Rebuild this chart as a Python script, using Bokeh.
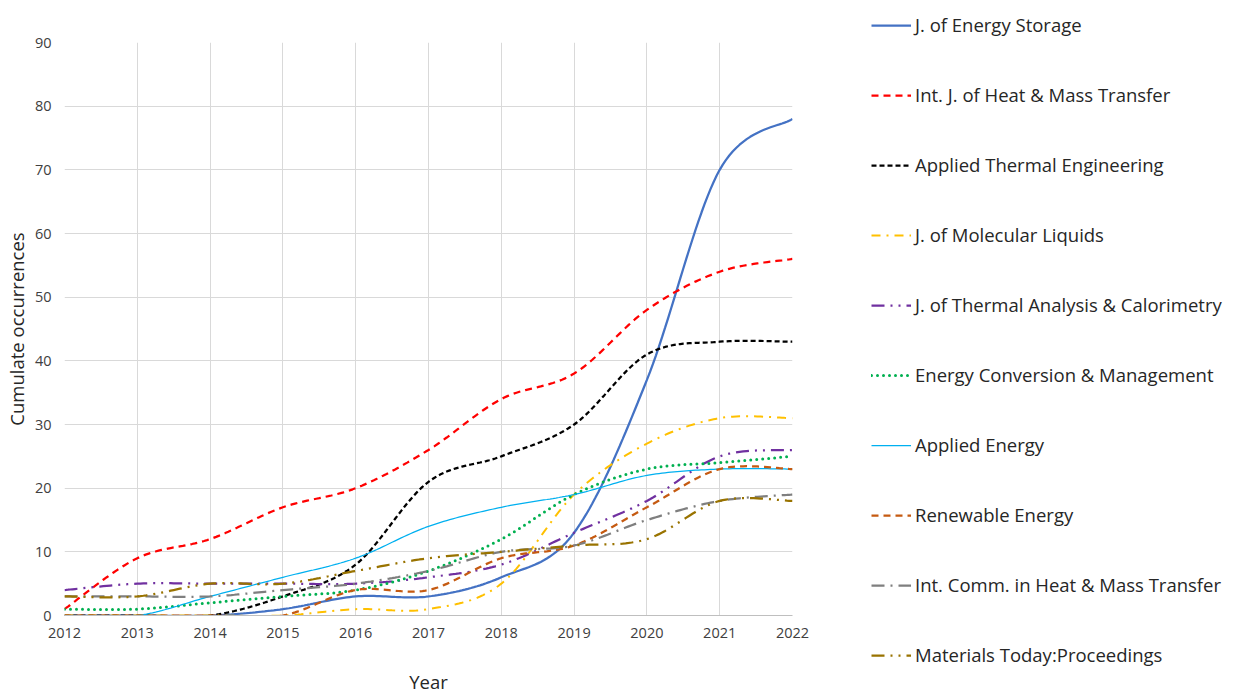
from bokeh.plotting import figure
from bokeh.models import Legend, LegendItem, FixedTicker, Range1d
from bokeh.embed import file_html
from bokeh.resources import INLINE

years = [2012, 2013, 2014, 2015, 2016, 2017, 2018, 2019, 2020, 2021, 2022]

energy_storage = [0, 0, 0, 1, 3, 3, 6, 13, 37, 70, 78]
heat_mass = [1, 9, 12, 17, 20, 26, 34, 38, 48, 54, 56]
applied_thermal = [0, 0, 0, 3, 8, 21, 25, 30, 41, 43, 43]
molecular_liquids = [0, 0, 0, 0, 1, 1, 5, 19, 27, 31, 31]
thermal_analysis = [4, 5, 5, 5, 5, 6, 8, 13, 18, 25, 26]
energy_conversion = [1, 1, 2, 3, 4, 7, 12, 19, 23, 24, 25]
applied_energy = [0, 0, 3, 6, 9, 14, 17, 19, 22, 23, 23]
renewable_energy = [0, 0, 0, 0, 4, 4, 9, 11, 17, 23, 23]
int_comm = [3, 3, 3, 4, 5, 7, 10, 11, 15, 18, 19]
materials_today = [3, 3, 5, 5, 7, 9, 10, 11, 12, 18, 18]

names = [
    "J. of Energy Storage",
    "Int. J. of Heat & Mass Transfer",
    "Applied Thermal Engineering",
    "J. of Molecular Liquids",
    "J. of Thermal Analysis & Calorimetry",
    "Energy Conversion & Management",
    "Applied Energy",
    "Renewable Energy",
    "Int. Comm. in Heat & Mass Transfer",
    "Materials Today:Proceedings",
]
series = [energy_storage, heat_mass, applied_thermal, molecular_liquids,
          thermal_analysis, energy_conversion, applied_energy,
          renewable_energy, int_comm, materials_today]

styles = [
    dict(color="#4472C4", width=2.25, dash="solid", cap="butt"),
    dict(color="#FF0000", width=2.25, dash="7 5", cap="butt"),
    dict(color="#000000", width=2.25, dash="5 3", cap="butt"),
    dict(color="#FFC000", width=2.0, dash="9 6 2 6", cap="butt"),
    dict(color="#7030A0", width=2.25, dash="13 6 2 6 2 6", cap="butt"),
    dict(color="#00B050", width=3.0, dash="0 6", cap="round"),
    dict(color="#00B0F0", width=1.25, dash="solid", cap="butt"),
    dict(color="#C55A11", width=2.25, dash="7 5", cap="butt"),
    dict(color="#7F7F7F", width=2.25, dash="13 6 2 6", cap="butt"),
    dict(color="#997300", width=2.25, dash="13 6 2 6 2 6", cap="butt"),
]


def smooth(xs, ys, n=24):
    """Excel-style smoothed line rendering (Bezier through the data points)."""
    pts = list(zip(xs, ys))
    m = len(pts)
    ox, oy = [], []
    for i in range(m - 1):
        p0 = pts[i - 1] if i > 0 else pts[i]
        p1 = pts[i]
        p2 = pts[i + 1]
        p3 = pts[i + 2] if i + 2 < m else pts[i + 1]
        c1 = (p1[0] + (p2[0] - p0[0]) / 6, p1[1] + (p2[1] - p0[1]) / 6)
        c2 = (p2[0] - (p3[0] - p1[0]) / 6, p2[1] - (p3[1] - p1[1]) / 6)
        for k in range(n + (1 if i == m - 2 else 0)):
            t = k / n
            a = (1 - t) ** 3
            b = 3 * (1 - t) ** 2 * t
            c = 3 * (1 - t) * t ** 2
            d = t ** 3
            ox.append(a * p1[0] + b * c1[0] + c * c2[0] + d * p2[0])
            oy.append(a * p1[1] + b * c1[1] + c * c2[1] + d * p2[1])
    return ox, oy


p = figure(frame_width=728, frame_height=573, output_backend="svg",
           toolbar_location=None, min_border_left=57, min_border_top=42,
           min_border_right=432, min_border_bottom=0,
           x_range=Range1d(2012, 2022), y_range=Range1d(0, 90))

p.outline_line_color = None
p.background_fill_color = "white"
p.border_fill_color = "white"

p.xaxis.ticker = FixedTicker(ticks=years)
p.yaxis.ticker = FixedTicker(ticks=list(range(0, 91, 10)))
p.xgrid.ticker = FixedTicker(ticks=years)
p.ygrid.ticker = FixedTicker(ticks=list(range(0, 91, 10)))
p.grid.grid_line_color = "#D9D9D9"
p.grid.grid_line_width = 1

for ax in (p.xaxis, p.yaxis):
    ax.major_tick_line_color = None
    ax.minor_tick_line_color = None
    ax.major_tick_out = 0
    ax.major_tick_in = 0
    ax.major_label_text_font = "Open Sans"
    ax.major_label_text_font_size = "14.5px"
    ax.major_label_text_color = "#404040"
    ax.axis_label_text_font = "Open Sans"
    ax.axis_label_text_font_size = "18.5px"
    ax.axis_label_text_font_style = "normal"
    ax.axis_label_text_color = "#262626"

p.xaxis.axis_line_color = "#BFBFBF"
p.yaxis.axis_line_color = None
p.xaxis.major_label_standoff = 12
p.yaxis.major_label_standoff = 13
p.xaxis.axis_label = "Year"
p.yaxis.axis_label = "Cumulate occurrences"
p.xaxis.axis_label_standoff = 28
p.yaxis.axis_label_standoff = 3

items = []
for name, ys, st in zip(names, series, styles):
    sx, sy = smooth(years, ys)
    r = p.line(sx, sy, line_color=st["color"], line_width=st["width"],
               line_dash=st["dash"], line_cap=st["cap"])
    items.append(LegendItem(label=name, renderers=[r]))

legend = Legend(items=items, location=(79, -52))
legend.border_line_color = None
legend.background_fill_alpha = 0
legend.margin = 0
legend.padding = 0
legend.spacing = 45
legend.glyph_width = 40
legend.glyph_height = 20
legend.label_height = 20
legend.label_standoff = 4
legend.label_text_font = "Open Sans"
legend.label_text_font_size = "18.5px"
legend.label_text_color = "#262626"
p.add_layout(legend, "right")

open("out.html", "w").write(file_html(p, INLINE))
